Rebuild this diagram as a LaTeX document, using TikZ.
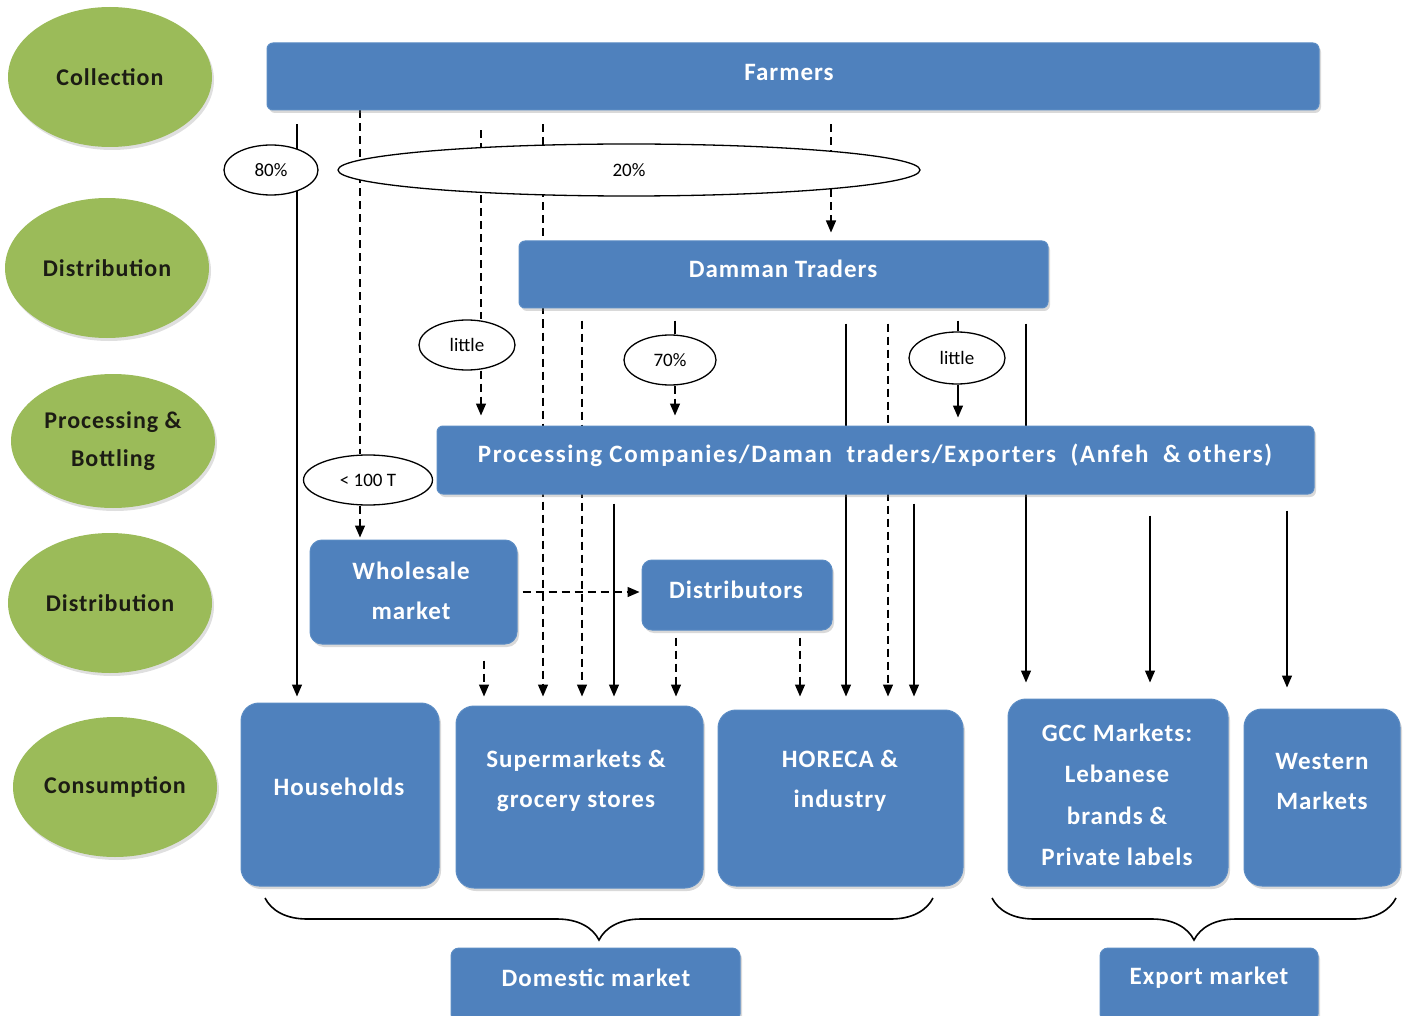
\documentclass[tikz,border=0pt]{standalone}
\usepackage{fontspec}
\setmainfont{Carlito}[LetterSpace=4]
\usetikzlibrary{shapes.geometric,shadows,arrows.meta,decorations.pathreplacing,calc}
\definecolor{boxblue}{HTML}{4F81BD}
\definecolor{boxedge}{HTML}{5B8CC4}
\definecolor{leaf}{HTML}{9BBB59}
\definecolor{leaftext}{HTML}{1C1C14}
\pgfdeclarelayer{bg}
\pgfsetlayers{bg,main}
\begin{document}
\begin{tikzpicture}[x=1pt,y=-1pt,
  bluebox/.style={draw=boxedge, line width=1pt, fill=boxblue, rounded corners=6pt,
    drop shadow={opacity=0.3, shadow xshift=2pt, shadow yshift=-3pt}},
  bigbox/.style={bluebox, rounded corners=18pt},
  boxtext/.style={text=white, font=\fontsize{25}{40}\selectfont\bfseries, align=center, inner sep=0pt},
  stage/.style={ellipse, fill=leaf, draw=none, text=leaftext,
    font=\fontsize{24}{38}\selectfont\bfseries, align=center, inner sep=0pt,
    minimum width=204pt, minimum height=140pt,
    drop shadow={opacity=0.25, shadow xshift=2pt, shadow yshift=-3pt}},
  share/.style={ellipse, fill=white, draw=black, line width=1.3pt, inner sep=0pt,
    font=\fontsize{19}{20}\selectfont\addfontfeature{LetterSpace=0}},
  arr/.style={-{Triangle[length=12pt,width=10pt]}, line width=1.3pt},
  plain/.style={line width=1.3pt},
  dsh/.style={dash pattern=on 8pt off 5pt},
  brc/.style={decorate, decoration={brace, amplitude=42pt}, line width=1.6pt}
]
\useasboundingbox (0,0) rectangle (1408,1016);

% stage ellipses
\node[stage] (collection) at (110,77) {Collection};
\node[stage] (dist1) at (107,268) {Distribution};
\node[stage, minimum height=134pt] (processingst) at (113,441) {Processing \&\\Bottling};
\node[stage] (dist2) at (110,603) {Distribution};
\node[stage] (consumption) at (115,787) {Consumption};

% main boxes
\node[bluebox, minimum width=1052pt, minimum height=67pt] (farmers) at (793,76.5) {};
\node[boxtext] (farmerstext) at (789,72) {Farmers};
\node[bluebox, minimum width=529pt, minimum height=67pt] (damman) at (783.5,274.5) {};
\node[boxtext] (dammantext) at (783,269) {Damman Traders};
\node[bluebox, minimum width=877pt, minimum height=68pt] (processing) at (875.5,460) {};
\node[boxtext, font=\fontsize{25}{40}\selectfont\bfseries\addfontfeature{LetterSpace=6.5}] (processingtext) at (875,455) {Processing Companies/Daman\ \ traders/Exporters\ \ (Anfeh\ \ \&~others)};
\node[bluebox, rounded corners=12pt, minimum width=207pt, minimum height=104pt] (wholesale) at (413.5,592) {};
\node[boxtext] (wholesaletext) at (411,591) {Wholesale\\market};
\node[bluebox, rounded corners=10pt, minimum width=190pt, minimum height=70pt] (distributors) at (737,595) {};
\node[boxtext] (distributorstext) at (736,590) {Distributors};

\node[bigbox, minimum width=198pt, minimum height=183pt] (households) at (340,794.5) {};
\node[boxtext] (householdstext) at (339,787) {Households};
\node[bigbox, minimum width=247pt, minimum height=182pt] (supermarkets) at (579.5,797) {};
\node[boxtext] (supermarketstext) at (576,781) {Supermarkets \&\\grocery stores};
\node[bigbox, minimum width=245pt, minimum height=176pt] (horeca) at (840.5,798) {};
\node[boxtext] (horecatext) at (840,781) {HORECA \&\\industry};
\node[bigbox, minimum width=220pt, minimum height=187pt] (gcc) at (1118,792.5) {};
\node[boxtext, font=\fontsize{25}{41.5}\selectfont\bfseries] (gcctext) at (1117,795) {GCC Markets:\\Lebanese\\brands \&\\Private labels};
\node[bigbox, minimum width=156pt, minimum height=177pt] (western) at (1322,797.5) {};
\node[boxtext] (westerntext) at (1322,781) {Western\\Markets};

\node[bluebox, rounded corners=8pt, minimum width=289pt, minimum height=74pt] (domestic) at (595.5,985) {};
\node[boxtext] (domestictext) at (596,978) {Domestic market};
\node[bluebox, rounded corners=8pt, minimum width=218pt, minimum height=74pt] (export) at (1209,985) {};
\node[boxtext] (exporttext) at (1209,978) {Export market};

% share ellipses
\node[share, minimum width=94pt, minimum height=50pt] (e80) at (271,170) {80\%};
\node[share, minimum width=582pt, minimum height=52pt] (e20) at (629,170) {20\%};
\node[share, minimum width=96pt, minimum height=50pt] (little1) at (467,345) {little};
\node[share, minimum width=92pt, minimum height=50pt] (e70) at (670,360) {70\%};
\node[share, minimum width=96pt, minimum height=52pt] (little2) at (957,358) {little};
\node[share, minimum width=129pt, minimum height=50pt] (e100) at (368,480) {< 100 T};

% braces
\draw[brc] (933,898) -- (265,898);
\draw[brc] (1396,898) -- (992,898);

\begin{pgfonlayer}{bg}
% from Farmers
\draw[arr, shorten >=6pt] ($(297,0|-farmers.south)+(0,14)$) -- (297,0|-households.north);
\draw[plain, dsh] (360,0|-farmers.south) -- (360,0|-e100.north);
\draw[arr, dsh, shorten >=2pt] (360,0|-e100.south) -- (360,0|-wholesale.north);
\draw[plain, dsh] ($(481,0|-farmers.south)+(0,20)$) -- (481,0|-little1.north);
\draw[arr, dsh, shorten >=10pt] (481,0|-little1.south) -- (481,0|-processing.north);
\draw[arr, dsh, shorten >=9pt] ($(543,0|-farmers.south)+(0,14)$) -- (543,0|-supermarkets.north);
\draw[arr, dsh, shorten >=8pt] ($(831,0|-farmers.south)+(0,14)$) -- (831,0|-damman.north);
% from Damman Traders
\draw[arr, dsh, shorten >=9pt] ($(582,0|-damman.south)+(0,12)$) -- (582,0|-supermarkets.north);
\draw[plain] ($(675,0|-damman.south)+(0,12)$) -- (675,0|-e70.north);
\draw[arr, dsh, shorten >=10pt] (675,0|-e70.south) -- (675,0|-processing.north);
\draw[arr, shorten >=13pt] ($(846,0|-damman.south)+(0,15)$) -- (846,0|-horeca.north);
\draw[arr, dsh, shorten >=13pt] ($(888,0|-damman.south)+(0,15)$) -- (888,0|-horeca.north);
\draw[plain] ($(958,0|-damman.south)+(0,12)$) -- (958,0|-little2.north);
\draw[arr, shorten >=8pt] (958,0|-little2.south) -- (958,0|-processing.north);
\draw[arr, shorten >=16pt] ($(1026,0|-damman.south)+(0,15)$) -- (1026,0|-gcc.north);
% from Processing
\draw[arr, shorten >=9pt] ($(614,0|-processing.south)+(0,9)$) -- (614,0|-supermarkets.north);
\draw[arr, shorten >=13pt] ($(914,0|-processing.south)+(0,9)$) -- (914,0|-horeca.north);
\draw[arr, shorten >=16pt] ($(1150,0|-processing.south)+(0,21)$) -- (1150,0|-gcc.north);
\draw[arr, shorten >=21pt] ($(1287,0|-processing.south)+(0,16)$) -- (1287,0|-western.north);
% from Wholesale and Distributors
\draw[arr, dsh, shorten >=9pt] ($(484,0|-wholesale.south)+(0,16)$) -- (484,0|-supermarkets.north);
\draw[arr, dsh, shorten >=2pt] ($(wholesale.east)+(5,0)$) -- (wholesale.east -| distributors.west);
\draw[arr, dsh, shorten >=9pt] ($(676,0|-distributors.south)+(0,7)$) -- (676,0|-supermarkets.north);
\draw[arr, dsh, shorten >=13pt] ($(800,0|-distributors.south)+(0,7)$) -- (800,0|-horeca.north);
\end{pgfonlayer}
\end{tikzpicture}
\end{document}
